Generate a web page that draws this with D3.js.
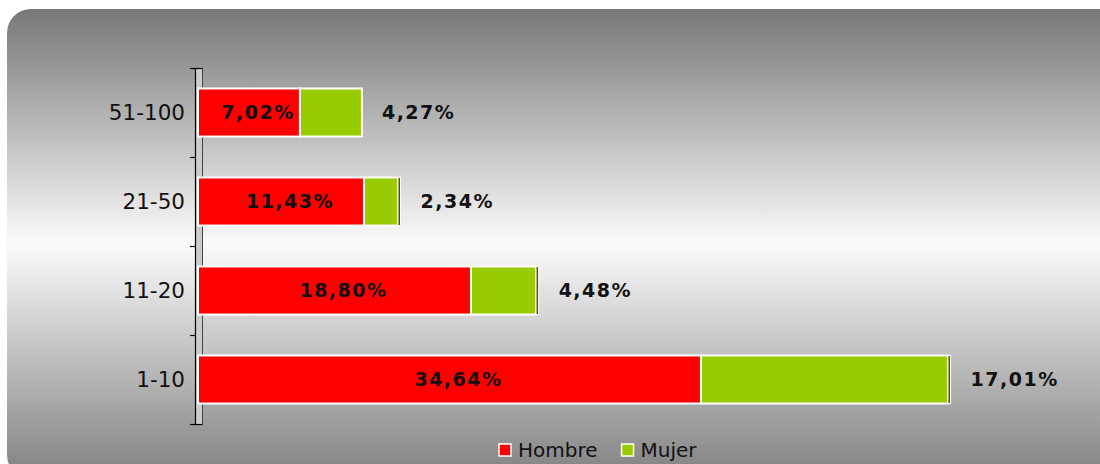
<!DOCTYPE html>
<html>
<head>
<meta charset="utf-8">
<script src="https://cdn.jsdelivr.net/npm/d3@7"></script>
<style>
  body { margin: 0; background: #fff; }
  svg { display: block; font-family: "DejaVu Sans", Verdana, sans-serif; }
</style>
</head>
<body>
<svg width="1100" height="464"></svg>
<script>
// chart data
const categories = ["51-100", "21-50", "11-20", "1-10"];
const hombre     = [7.02, 11.43, 18.80, 34.64];
const mujer      = [4.27, 2.34, 4.48, 17.01];
const resto      = [0, 0.18, 0.18, 0.18];   // thin dark sliver after the green
const seriesNames = ["Hombre", "Mujer"];
const fmt = v => v.toFixed(2).replace(".", ",") + "%";

let svg    = d3.select("svg"),
    defs   = svg.append("defs"),
    grad   = defs.append("linearGradient")
               .attr("id", "bg").attr("x1", 0).attr("y1", 0).attr("x2", 0).attr("y2", 1);

grad.append("stop").attr("offset", "0%").attr("stop-color", "#777777");
grad.append("stop").attr("offset", "50%").attr("stop-color", "#fbfbfb");
grad.append("stop").attr("offset", "100%").attr("stop-color", "#808080");

svg.append("rect")
  .attr("x", 7).attr("y", 9)
  .attr("width", 1120).attr("height", 470)
  .attr("rx", 24)
  .attr("fill", "url(#bg)");

let rows = categories.map((c, i) => ({cat: c, h: hombre[i], m: mujer[i], r: resto[i]}));

let x = d3.scaleLinear()
          .domain([0, 52])
          .range([198, 198 + 52 * 14.52]),
    y = d3.scaleBand()
          .domain(categories)
          .range([68, 424])
          .paddingInner(0.46)
          .paddingOuter(0.23);

// axis wall
let yTop = y.range()[0], yBot = y.range()[1];
svg.append("rect")
  .attr("x", 195).attr("y", yTop)
  .attr("width", 7).attr("height", yBot - yTop)
  .attr("fill", "#cccccc");
svg.append("line").attr("x1", 195.5).attr("x2", 195.5).attr("y1", yTop).attr("y2", yBot)
  .attr("stroke", "#000").attr("stroke-width", 1.2);
svg.append("line").attr("x1", 202.5).attr("x2", 202.5).attr("y1", yTop).attr("y2", yBot)
  .attr("stroke", "#444").attr("stroke-width", 1);

let tickYs = [yTop].concat(categories.slice(1).map(c => y(c) - y.step() * y.paddingInner() / 2), [yBot]);
svg.selectAll(".tick")
  .data(tickYs)
  .enter().append("line")
    .attr("x1", 190)
    .attr("x2", (d, i) => (i === 0 || i === tickYs.length - 1) ? 202.5 : 195.5)
    .attr("y1", d => Math.round(d) + 0.5)
    .attr("y2", d => Math.round(d) + 0.5)
    .attr("stroke", "#000").attr("stroke-width", 1.2);

svg.selectAll(".cat")
  .data(categories)
  .enter().append("text")
    .attr("x", 185)
    .attr("y", d => y(d) + y.bandwidth() / 2)
    .attr("dy", "0.36em")
    .attr("text-anchor", "end")
    .attr("font-size", 21.5)
    .attr("fill", "#111")
    .text(d => d);

// bars
let g = svg.append("g");
g.selectAll(".h")
  .data(rows)
  .enter().append("rect")
    .attr("x", x(0))
    .attr("y", d => y(d.cat))
    .attr("width", d => x(d.h) - x(0))
    .attr("height", y.bandwidth())
    .attr("fill", "#ff0000")
    .attr("stroke", "#fff").attr("stroke-width", 2);

g.selectAll(".m")
  .data(rows)
  .enter().append("rect")
    .attr("x", d => x(d.h))
    .attr("y", d => y(d.cat))
    .attr("width", d => x(d.h + d.m) - x(d.h))
    .attr("height", y.bandwidth())
    .attr("fill", "#99cc00")
    .attr("stroke", "#fff").attr("stroke-width", 2);

g.selectAll(".r")
  .data(rows.filter(d => d.r > 0))
  .enter().append("rect")
    .attr("x", d => x(d.h + d.m))
    .attr("y", d => y(d.cat))
    .attr("width", d => x(d.h + d.m + d.r) - x(d.h + d.m))
    .attr("height", y.bandwidth())
    .attr("fill", "#4d5e00")
    .attr("stroke", "#fff").attr("stroke-width", 1);

// labels
g.selectAll(".hl")
  .data(rows)
  .enter().append("text")
    .attr("x", d => (x(0) + x(d.h)) / 2 + 9)
    .attr("y", d => y(d.cat) + y.bandwidth() / 2)
    .attr("dy", "0.36em")
    .attr("text-anchor", "middle")
    .attr("font-size", 19).attr("font-weight", "bold")
    .attr("letter-spacing", 1.5)
    .attr("fill", "#111")
    .text(d => fmt(d.h));

g.selectAll(".ml")
  .data(rows)
  .enter().append("text")
    .attr("x", d => x(d.h + d.m + d.r) + 20)
    .attr("y", d => y(d.cat) + y.bandwidth() / 2)
    .attr("dy", "0.36em")
    .attr("font-size", 19).attr("font-weight", "bold")
    .attr("letter-spacing", 1.5)
    .attr("fill", "#111")
    .text(d => fmt(d.m));

// legend
let legend = svg.append("g").attr("transform", "translate(499,450)"),
    colors = ["#ff0000", "#99cc00"],
    lx = 0;
seriesNames.forEach((name, i) => {
  legend.append("rect")
    .attr("x", lx).attr("y", -6)
    .attr("width", 12).attr("height", 12)
    .attr("fill", colors[i])
    .attr("stroke", "#fff").attr("stroke-width", 1.5);
  let t = legend.append("text")
    .attr("x", lx + 19).attr("y", 0)
    .attr("dy", "0.36em")
    .attr("font-size", 20)
    .attr("fill", "#111")
    .text(name);
  lx += 19 + t.node().getComputedTextLength() + 24;
});
</script>
</body>
</html>
